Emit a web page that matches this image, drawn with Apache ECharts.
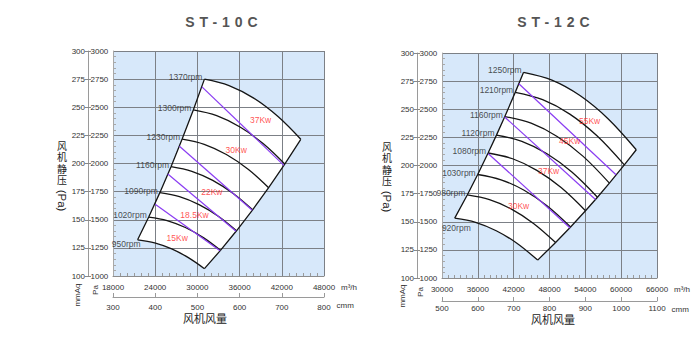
<!DOCTYPE html>
<html>
<head>
<meta charset="utf-8">
<script src="https://cdn.jsdelivr.net/npm/echarts@6/dist/echarts.min.js"></script>
<style>
html, body { margin: 0; padding: 0; background: #fff; }
#chart { width: 700px; height: 338px; }
</style>
</head>
<body>
<div id="chart"></div>
<script>
// ---- ST-10C : fan speed curves, flow (m³/h) against static pressure (Pa) ----
const st10Rpm = [1370, 1300, 1230, 1160, 1090, 1020, 950];
const st10Flow = [
  [31000, 34500, 38000, 41500, 44700],
  [29420, 32740, 36060, 39380, 42420],
  [27830, 30970, 34120, 37260, 40130],
  [26250, 29210, 32180, 35140, 37850],
  [24660, 27450, 30230, 33020, 35560],
  [23080, 25690, 28290, 30900, 33280],
  [21500, 23920, 26350, 28770, 31000]
];
const st10Pressure = [
  [2750, 2693, 2581, 2415, 2215],
  [2476, 2425, 2324, 2175, 1995],
  [2217, 2171, 2080, 1947, 1785],
  [1972, 1931, 1850, 1731, 1588],
  [1741, 1705, 1634, 1529, 1402],
  [1524, 1493, 1431, 1339, 1228],
  [1322, 1295, 1241, 1161, 1065]
];
const st10Power = ['37Kw', '30Kw', '22Kw', '18.5Kw', '15Kw'];
const st10PowerAt = [[38980, 2385], [35520, 2119], [32050, 1749], [29590, 1542], [27130, 1335]];
const st10PowerLines = [
  [[30650, 2681], [42300, 1983]],
  [[27450, 2154], [37800, 1585]],
  [[25795, 1906], [35500, 1398]],
  [[24000, 1637], [33220, 1224]]
];
const st10FlowTicks = [18000, 48000, 6000];
const st10CmmTicks = [300, 800, 100];

// ---- ST-12C ----
const st12Rpm = [1250, 1210, 1160, 1120, 1080, 1030, 980, 920];
const st12Flow = [
  [43660, 48400, 53100, 57800, 62530],
  [42260, 46850, 51400, 55950, 60530],
  [40520, 44920, 49280, 53640, 58030],
  [39120, 43370, 47580, 51790, 56030],
  [37720, 41820, 45880, 49940, 54030],
  [35980, 39880, 43750, 47630, 51530],
  [34230, 37950, 41630, 45320, 49020],
  [32130, 35620, 39080, 42540, 46020]
];
const st12Pressure = [
  [2828, 2759, 2622, 2416, 2140],
  [2650, 2585, 2457, 2264, 2005],
  [2435, 2376, 2258, 2081, 1843],
  [2270, 2215, 2105, 1940, 1718],
  [2111, 2060, 1957, 1804, 1598],
  [1920, 1873, 1780, 1640, 1453],
  [1738, 1696, 1612, 1485, 1315],
  [1532, 1495, 1420, 1309, 1159]
];
const st12Power = ['55Kw', '45Kw', '37Kw', '30Kw'];
const st12PowerAt = [[54710, 2398], [51370, 2220], [47850, 1954], [42830, 1640]];
const st12PowerLines = [
  [[42870, 2727], [59135, 1918]],
  [[40500, 2431], [55700, 1698]],
  [[37760, 2105], [51450, 1445]]
];
const st12FlowTicks = [30000, 66000, 6000];
const st12CmmTicks = [500, 1100, 100];

// shared pressure scales
const pressureTicks = [1000, 3000, 250];
const mmAqTicks = [100, 300, 25];

const FONT = '"Liberation Sans", Arial, sans-serif';
const CJK_STACK = '"Liberation Sans", "Noto Sans CJK SC", sans-serif';
const CJK = '"Noto Sans CJK SC", "Liberation Sans", sans-serif';
const GRID_LINE = '#7c8086';
const PLOT_BG = '#d7e8fa';
const CURVE = '#151515';
const POWER_LINE = '#8a3cf2';
const POWER_TEXT = '#ff1f1f';
const plain = v => String(v);

function flowAxis(gi, t, nameGap) {
  return {
    gridIndex: gi, type: 'value', min: t[0], max: t[1], interval: t[2], position: 'bottom',
    axisLine: { show: true, onZero: false, lineStyle: { color: '#8c8c8c' } },
    axisTick: { show: false, inside: true },
    minorTick: { show: true, splitNumber: 6, length: 3, lineStyle: { color: '#9a9a9a' } },
    splitLine: { show: true, lineStyle: { color: GRID_LINE } },
    axisLabel: { fontSize: 8, color: '#333', margin: 7, fontFamily: FONT, formatter: plain, showMinLabel: true, showMaxLabel: true },
    name: 'm³/h', nameLocation: 'end', nameGap: nameGap,
    nameTextStyle: { fontSize: 8, color: '#333', fontFamily: FONT, verticalAlign: 'top', padding: [7, 0, 0, 0] }
  };
}
function cmmAxis(gi, t, offset, margin) {
  return {
    gridIndex: gi, type: 'value', min: t[0], max: t[1], interval: t[2], position: 'bottom', offset: offset,
    axisLine: { show: true, onZero: false, lineStyle: { color: '#9a9a9a' } },
    axisTick: { show: true, inside: true, length: 4, lineStyle: { color: '#9a9a9a' } },
    splitLine: { show: false },
    axisLabel: { fontSize: 8, color: '#333', margin: margin, fontFamily: FONT, formatter: plain, showMinLabel: true, showMaxLabel: true },
    name: 'cmm', nameLocation: 'end', nameGap: 11,
    nameTextStyle: { fontSize: 8, color: '#333', fontFamily: FONT, verticalAlign: 'top', padding: [4, 0, 0, 0] }
  };
}
function pressureGridAxis(gi, t) {
  return {
    gridIndex: gi, type: 'value', min: t[0], max: t[1], interval: t[2], position: 'left',
    axisLine: { show: true, onZero: false, lineStyle: { color: '#a8a8a8' } },
    axisTick: { show: false, inside: true },
    minorTick: { show: true, splitNumber: 5, length: 3, lineStyle: { color: '#a8a8a8' } },
    splitLine: { show: true, lineStyle: { color: GRID_LINE } },
    axisLabel: { show: false }
  };
}
function mmAqAxis(gi, t) {
  return {
    gridIndex: gi, type: 'value', min: t[0], max: t[1], interval: t[2], position: 'left', offset: 25,
    axisLine: { show: true, onZero: false, lineStyle: { color: '#9a9a9a' } },
    axisTick: { show: true, length: 3, lineStyle: { color: '#8a8a8a' } },
    splitLine: { show: false },
    axisLabel: { fontSize: 8, color: '#333', margin: 3, fontFamily: FONT, formatter: plain, showMinLabel: true, showMaxLabel: true }
  };
}
function paLabelAxis(gi, t) {
  return {
    gridIndex: gi, type: 'value', min: t[0], max: t[1], interval: t[2], position: 'left', offset: 25,
    axisLine: { show: false },
    axisTick: { show: true, inside: true, length: 3, lineStyle: { color: '#8a8a8a' } },
    splitLine: { show: false },
    axisLabel: { inside: true, fontSize: 8, color: '#333', margin: 2.5, fontFamily: FONT, formatter: plain, showMinLabel: true, showMaxLabel: true }
  };
}

// series for one fan: plot backdrop, white operating envelope, speed curves,
// motor power lines and their labels
function fanSeries(gi, d) {
  const base = { xAxisIndex: gi * 2, yAxisIndex: gi * 3, silent: true, animation: false };
  const n = d.flow.length;
  const starts = d.flow.map((f, i) => [f[0], d.pressure[i][0]]);
  const ends = d.flow.map((f, i) => [f[f.length - 1], d.pressure[i][f.length - 1]]);
  const curve = i => d.flow[i].map((q, j) => [q, d.pressure[i][j]]);

  const ring = [];
  for (let i = n - 1; i >= 0; i--) ring.push(starts[i]);
  curve(0).slice(1, -1).forEach(p => ring.push(p));
  ends.forEach(p => ring.push(p));
  curve(n - 1).slice(1, -1).reverse().forEach(p => ring.push(p));

  const out = [];
  out.push(Object.assign({}, base, {
    type: 'custom', z: -20, clip: false,
    data: [[d.flowTicks[0], pressureTicks[0]]],
    renderItem: (p, api) => {
      const a = api.coord([d.flowTicks[0], pressureTicks[1]]);
      const b = api.coord([d.flowTicks[1], pressureTicks[0]]);
      return { type: 'rect', shape: { x: a[0], y: a[1], width: b[0] - a[0], height: b[1] - a[1] }, style: { fill: PLOT_BG } };
    }
  }));
  out.push(Object.assign({}, base, {
    type: 'custom', z: -10, clip: false,
    data: [starts[0]],
    renderItem: (p, api) => ({ type: 'polygon', shape: { points: ring.map(pt => api.coord(pt)) }, style: { fill: '#ffffff' } })
  }));
  for (let i = 0; i < n; i++) {
    out.push(Object.assign({}, base, {
      type: 'line', z: 3, data: curve(i), smooth: 0.35, symbol: 'none',
      lineStyle: { color: CURVE, width: 1.3 }
    }));
  }
  out.push(Object.assign({}, base, { type: 'line', z: 3, data: starts, symbol: 'none', lineStyle: { color: CURVE, width: 1.3 } }));
  out.push(Object.assign({}, base, { type: 'line', z: 3, data: ends, symbol: 'none', lineStyle: { color: CURVE, width: 1.3 } }));
  d.powerLines.forEach(seg => {
    out.push(Object.assign({}, base, { type: 'line', z: 4, data: seg, symbol: 'none', lineStyle: { color: POWER_LINE, width: 1.2 } }));
  });
  out.push(Object.assign({}, base, {
    type: 'scatter', z: 5, symbolSize: 0,
    data: starts.map((p, i) => ({
      value: p,
      label: d.rpmNudge[i] ? { position: 'left', distance: 0, offset: d.rpmNudge[i] } : undefined
    })),
    label: {
      show: true, position: 'left', distance: 2, offset: [0, -2],
      formatter: p => d.rpm[p.dataIndex] + 'rpm', fontSize: 8.5, color: '#222', fontFamily: FONT
    }
  }));
  out.push(Object.assign({}, base, {
    type: 'scatter', z: 5, symbolSize: 0, data: d.powerAt,
    label: { show: true, position: 'inside', formatter: p => d.power[p.dataIndex], fontSize: 8.5, color: POWER_TEXT, fontFamily: FONT }
  }));
  return out;
}

const st10 = {
  rpm: st10Rpm, flow: st10Flow, pressure: st10Pressure, power: st10Power, powerAt: st10PowerAt,
  powerLines: st10PowerLines, flowTicks: st10FlowTicks,
  rpmNudge: [null, null, null, null, null, null, [3, 4]]
};
const st12 = {
  rpm: st12Rpm, flow: st12Flow, pressure: st12Pressure, power: st12Power, powerAt: st12PowerAt,
  powerLines: st12PowerLines, flowTicks: st12FlowTicks,
  rpmNudge: [null, null, null, null, null, null, null, [16, 10]]
};

function txt(x, y, text, extra) {
  return {
    type: 'text', x: x, y: y, silent: true,
    style: Object.assign({
      text: text, fill: '#333', fontSize: 8, fontFamily: FONT,
      align: 'center', verticalAlign: 'middle', textAlign: 'center', textVerticalAlign: 'middle'
    }, extra || {})
  };
}
// vertical axis title: stacked upright characters, then the unit turned on its side
function yTitle(x, y) {
  const out = ['风', '机', '静', '压'].map((c, i) =>
    txt(x, y + i * 11.5, c, { fontSize: 10, fontFamily: CJK_STACK, fill: '#222' }));
  out.push(Object.assign(txt(x, y + 54.5, '(Pa)', { fontSize: 11.5, fill: '#222' }), { rotation: -Math.PI / 2 }));
  return out;
}

const chart = echarts.init(document.getElementById('chart'), null, { renderer: 'svg' });
chart.setOption({
  animation: false,
  textStyle: { fontFamily: FONT },
  grid: [
    { left: 113, top: 51, width: 211, height: 225 },
    { left: 442, top: 53, width: 215, height: 225 }
  ],
  xAxis: [
    flowAxis(0, st10FlowTicks, 13), cmmAxis(0, st10CmmTicks, 21, 6),
    flowAxis(1, st12FlowTicks, 8), cmmAxis(1, st12CmmTicks, 23, 3)
  ],
  yAxis: [
    pressureGridAxis(0, pressureTicks), mmAqAxis(0, mmAqTicks), paLabelAxis(0, pressureTicks),
    pressureGridAxis(1, pressureTicks), mmAqAxis(1, mmAqTicks), paLabelAxis(1, pressureTicks)
  ],
  series: fanSeries(0, st10).concat(fanSeries(1, st12)),
  graphic: [
    txt(224, 21.7, 'ST-10C', { fontSize: 14, fontWeight: 'bold', fill: '#555' }),
    txt(556, 22, 'ST-12C', { fontSize: 14, fontWeight: 'bold', fill: '#555' }),
    ...yTitle(62, 146),
    ...yTitle(387, 147),
    Object.assign(txt(77.7, 295, 'mmAq'), { rotation: Math.PI / 2 }),
    Object.assign(txt(95.7, 290, 'Pa'), { rotation: Math.PI / 2 }),
    Object.assign(txt(402, 296, 'mmAq'), { rotation: Math.PI / 2 }),
    Object.assign(txt(420, 292, 'Pa'), { rotation: Math.PI / 2 }),
    txt(205, 318, '风机风量', { fontSize: 11, fontFamily: CJK, fill: '#222' }),
    txt(553, 319, '风机风量', { fontSize: 11, fontFamily: CJK, fill: '#222' })
  ]
});

// spaced-out model titles
document.querySelectorAll('#chart text').forEach(t => {
  if (t.textContent === 'ST-10C' || t.textContent === 'ST-12C') t.setAttribute('letter-spacing', '5');
});
</script>
</body>
</html>
